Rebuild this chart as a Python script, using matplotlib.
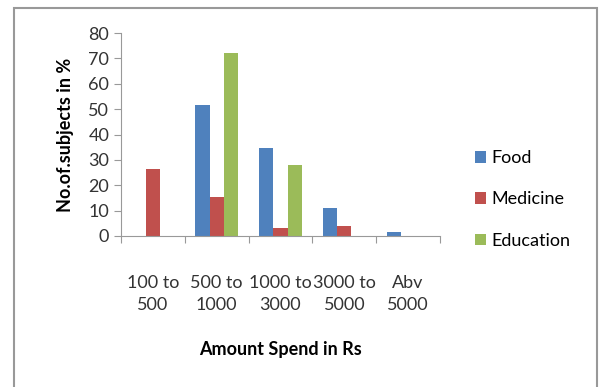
import numpy as np
import matplotlib.pyplot as plt
from matplotlib.patches import Rectangle

plt.rcParams['font.family'] = ['Lato', 'DejaVu Sans']

categories = ["100 to\n500", "500 to\n1000", "1000 to\n3000", "3000 to\n5000", "Abv\n5000"]
food = [0, 51.5, 34.6, 11, 1.7]
medicine = [26.4, 15.2, 3, 4, 0]
education = [0, 72, 28.1, 0, 0]

series = [("Food", food, "#4F81BD"),
          ("Medicine", medicine, "#C0504D"),
          ("Education", education, "#9BBB59")]

fig = plt.figure(figsize=(6.02, 3.87), dpi=100)
fig.patches.append(Rectangle((14 / 602, -0.05), (597 - 14) / 602, 1.05 - 8 / 387,
                             transform=fig.transFigure, fill=False,
                             edgecolor="#999999", linewidth=1.5))

ax = fig.add_axes([121 / 602, 1 - 236 / 387, (440 - 121) / 602, (236 - 33) / 387])
x = np.arange(len(categories))
w = 0.222
for i, (name, vals, col) in enumerate(series):
    ax.bar(x + (i - 1) * w, vals, w, color=col, label=name)

ax.set_xlim(-0.5, len(categories) - 0.5)
ax.set_ylim(0, 80)
ax.set_yticks(range(0, 81, 10))
ax.set_xticks(np.arange(-0.5, len(categories), 1.0))
ax.set_xticklabels([])
ax.set_xticks(x, minor=True)
ax.set_xticklabels(categories, minor=True, fontsize=13, color="#333333", linespacing=1.45)
ax.tick_params(axis="x", which="minor", length=0, pad=28)
ax.tick_params(axis="x", which="major", length=5, color="#999999")
ax.tick_params(axis="y", length=5, color="#999999", labelsize=13, labelcolor="#333333")

for s in ["top", "right"]:
    ax.spines[s].set_visible(False)
for s in ["left", "bottom"]:
    ax.spines[s].set_color("#999999")

ax.set_ylabel("No.of.subjects in %", fontsize=13, fontweight="bold", labelpad=10)
ax.set_xlabel("Amount Spend in Rs", fontsize=13, fontweight="bold", labelpad=20)

ax.legend(loc="center left", bbox_to_anchor=(1.06, 0.18), frameon=False,
          fontsize=13, handlelength=0.6, handleheight=0.6, handletextpad=0.3,
          labelspacing=1.4)

fig.savefig("out.png", dpi=100)
